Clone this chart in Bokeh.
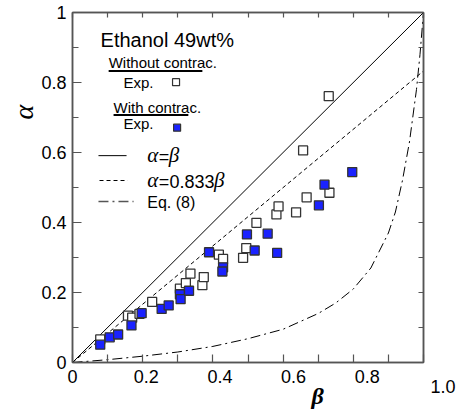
from bokeh.plotting import figure
from bokeh.models import Range1d, FixedTicker, LinearAxis, Label, Title
from bokeh.embed import file_html
from bokeh.resources import INLINE

# ---- data ----
beta_open = [0.079, 0.158, 0.170, 0.191, 0.227, 0.306, 0.323, 0.336, 0.370, 0.374, 0.417,
             0.429, 0.486, 0.495, 0.524, 0.581, 0.587, 0.637, 0.657, 0.667, 0.730, 0.732]
alpha_open = [0.066, 0.134, 0.128, 0.139, 0.173, 0.211, 0.227, 0.254, 0.221, 0.244, 0.308,
              0.296, 0.299, 0.327, 0.399, 0.423, 0.446, 0.429, 0.606, 0.472, 0.761, 0.485]

beta_blue = [0.079, 0.106, 0.130, 0.168, 0.197, 0.254, 0.274, 0.306, 0.308, 0.332,
             0.389, 0.429, 0.427, 0.497, 0.519, 0.556, 0.583, 0.702, 0.718, 0.797]
alpha_blue = [0.051, 0.072, 0.080, 0.106, 0.141, 0.153, 0.163, 0.195, 0.181, 0.205,
              0.315, 0.272, 0.260, 0.366, 0.320, 0.368, 0.313, 0.449, 0.508, 0.544]

line_beta = [0.0, 1.0]
line_alpha_eq = [0.0, 1.0]
line_alpha_833 = [0.0, 0.833]

eq8_beta = [0.0, 0.1, 0.2, 0.3, 0.4, 0.5, 0.6, 0.7, 0.75, 0.8, 0.85, 0.88, 0.9,
            0.92, 0.94, 0.96, 0.98, 0.99, 1.0]
eq8_alpha = [0.0, 0.008, 0.018, 0.030, 0.046, 0.068, 0.095, 0.140, 0.170, 0.210, 0.270,
             0.330, 0.370, 0.430, 0.520, 0.630, 0.780, 0.880, 1.0]

x_ticks = [0.0, 0.1, 0.2, 0.3, 0.4, 0.5, 0.6, 0.7, 0.8, 0.9, 1.0]
y_major = [0.0, 0.2, 0.4, 0.6, 0.8, 1.0]
y_minor = [0.1, 0.3, 0.5, 0.7, 0.9]
x_label_vals = [0.0, 0.2, 0.4, 0.6, 0.8, 1.0]
x_label_text = ["0", "0.2", "0.4", "0.6", "0.8", "1.0"]
x_label_stretch = 1.05   # the original's x tick labels sit on a slightly wider scale

SANS = "Liberation Sans"
SERIF = "Liberation Serif"
FRAME = "#555555"
BLUE = "#1a22ff"

FW, FH = 351, 350
p = figure(width=465, height=417, frame_width=FW, frame_height=FH,
           x_range=Range1d(0, 1), y_range=Range1d(0, 1),
           output_backend="svg", toolbar_location=None,
           min_border_left=72, min_border_right=42, min_border_top=12, min_border_bottom=55)
p.xgrid.visible = False
p.ygrid.visible = False
p.outline_line_color = FRAME
p.outline_line_width = 1.5
p.background_fill_color = "white"
p.border_fill_color = "white"

# bottom axis: tick marks every 0.1 (as minor ticks), labels on the stretched positions;
# a label that falls beyond the frame's right edge is shown by the right axis instead
label_pos = []
overrides = {}
beyond = []
for v, t in zip(x_label_vals, x_label_text):
    pos = round(v * x_label_stretch, 4)
    if pos > 1.0:
        beyond.append(t)
        continue
    label_pos.append(pos)
    overrides[pos] = t

xa = p.xaxis[0]
xa.ticker = FixedTicker(ticks=label_pos, minor_ticks=x_ticks)
xa.major_label_overrides = overrides
xa.major_tick_in = 0
xa.major_tick_out = 0
xa.minor_tick_in = 8
xa.minor_tick_out = 0
xa.axis_line_color = FRAME
xa.axis_line_width = 1.5
xa.minor_tick_line_color = FRAME
xa.minor_tick_line_width = 1.2
xa.major_label_text_font = SANS
xa.major_label_text_font_size = "18px"
xa.major_label_text_color = "black"
xa.major_label_standoff = 7

ya = p.yaxis[0]
ya.ticker = FixedTicker(ticks=y_major, minor_ticks=y_minor)
ya.major_label_overrides = {0.0: "0", 1.0: "1"}
ya.major_tick_in = 9
ya.major_tick_out = 0
ya.minor_tick_in = 6
ya.minor_tick_out = 0
ya.axis_line_color = FRAME
ya.axis_line_width = 1.5
ya.major_tick_line_color = FRAME
ya.minor_tick_line_color = FRAME
ya.major_tick_line_width = 1.2
ya.minor_tick_line_width = 1.2
ya.major_label_text_font = SANS
ya.major_label_text_font_size = "18px"
ya.major_label_text_color = "black"
ya.major_label_standoff = 6

# top: tick marks only
top = LinearAxis(ticker=FixedTicker(ticks=[], minor_ticks=x_ticks),
                 major_tick_in=0, major_tick_out=0, minor_tick_in=5, minor_tick_out=0,
                 major_label_standoff=0, axis_line_color=FRAME, axis_line_width=1.5,
                 minor_tick_line_color=FRAME, minor_tick_line_width=1.2)
p.add_layout(top, "above")

# right: tick marks, plus the last x label below the corner
right = LinearAxis(ticker=FixedTicker(ticks=[0.0] if beyond else [], minor_ticks=x_ticks),
                   major_label_overrides={0.0: "\n\n" + beyond[0]} if beyond else {},
                   major_tick_in=0, major_tick_out=0, minor_tick_in=5, minor_tick_out=0,
                   major_label_standoff=7, major_label_text_font=SANS,
                   major_label_text_font_size="18px", major_label_text_color="black",
                   major_label_text_line_height=1.2,
                   axis_line_color=FRAME, axis_line_width=1.5,
                   minor_tick_line_color=FRAME, minor_tick_line_width=1.2)
p.add_layout(right, "right")

# axis titles
p.add_layout(Title(text="β", align="left", offset=239, standoff=-9,
                   text_font=SERIF, text_font_style="bold italic", text_font_size="24px",
                   text_color="black"), "below")
p.add_layout(Title(text="α", align="left", offset=243, standoff=0,
                   text_font=SERIF, text_font_style="italic", text_font_size="28px",
                   text_color="black"), "left")

# curves
p.line(line_beta, line_alpha_eq, line_color="black", line_width=1)
p.line(line_beta, line_alpha_833, line_color="black", line_width=1, line_dash="4 3")
p.line(eq8_beta, eq8_alpha, line_color="black", line_width=1, line_dash="10 4 2 4")

# data
p.scatter(beta_open, alpha_open, marker="square", size=9, fill_color="white",
          line_color="#333333", line_width=1.3)
p.scatter(beta_blue, alpha_blue, marker="square", size=9, fill_color=BLUE,
          line_color="#333333", line_width=1.3)

# legend block
def txt(x, y, s, size, font=SANS, style="normal"):
    p.add_layout(Label(x=x, y=y, text=s, text_align="left", text_baseline="middle",
                       text_font=font, text_font_style=style, text_font_size=size,
                       text_color="black"))

txt(0.080, 0.921, "Ethanol 49wt%", "20px")
txt(0.103, 0.857, "Without contrac.", "15px")
p.line([0.103, 0.370], [0.833, 0.833], line_color="black", line_width=2)
txt(0.145, 0.799, "Exp.", "15px")
p.scatter([0.295], [0.801], marker="square", size=7, fill_color="white",
          line_color="#333333", line_width=1.2)
txt(0.117, 0.728, "With contrac.", "15px")
p.line([0.117, 0.330], [0.707, 0.707], line_color="black", line_width=2)
txt(0.145, 0.683, "Exp.", "15px")
p.scatter([0.298], [0.671], marker="square", size=7, fill_color=BLUE,
          line_color="#333333", line_width=1.2)

p.line([0.074, 0.154], [0.591, 0.591], line_color="black", line_width=1)
txt(0.213, 0.592, "α", "21px", SERIF, "italic")
txt(0.246, 0.586, "=", "18px")
txt(0.274, 0.592, "β", "21px", SERIF, "italic")

p.line([0.077, 0.157], [0.520, 0.520], line_color="black", line_width=1, line_dash="4 3")
txt(0.213, 0.522, "α", "21px", SERIF, "italic")
txt(0.246, 0.516, "=", "18px")
txt(0.276, 0.516, "0.833", "18px")
txt(0.403, 0.522, "β", "21px", SERIF, "italic")

p.line([0.074, 0.174], [0.460, 0.460], line_color="#555555", line_width=1.5,
       line_dash="10 4 2 4")
txt(0.213, 0.458, "Eq. (8)", "16px")

open("out.html", "w").write(file_html(p, INLINE))
